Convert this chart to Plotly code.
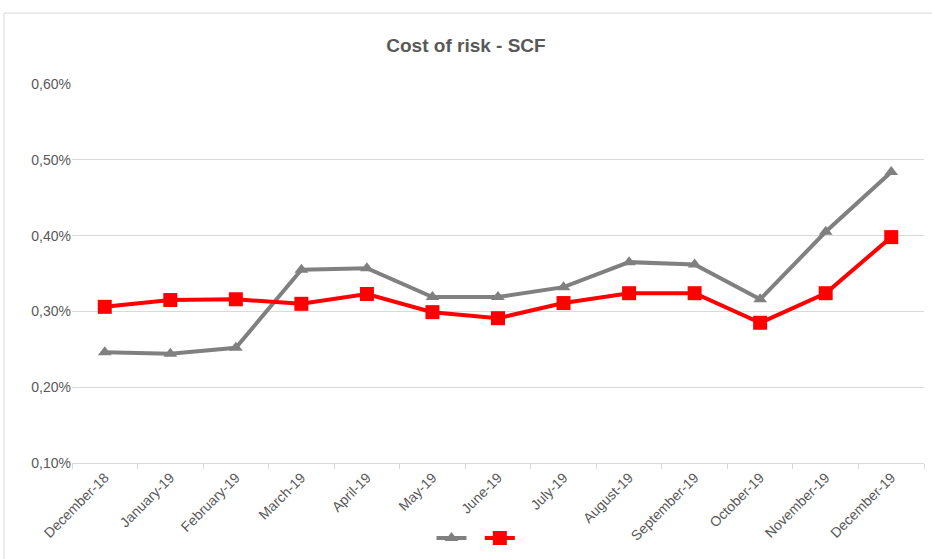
import plotly.graph_objects as go

months = ["December-18", "January-19", "February-19", "March-19", "April-19", "May-19",
          "June-19", "July-19", "August-19", "September-19", "October-19", "November-19", "December-19"]
gray_values = [0.246, 0.244, 0.252, 0.355, 0.357, 0.319, 0.319, 0.332, 0.365, 0.362, 0.316, 0.405, 0.484]
red_values = [0.306, 0.315, 0.316, 0.310, 0.323, 0.299, 0.291, 0.311, 0.324, 0.324, 0.285, 0.324, 0.398]
y_ticks = [0.001, 0.002, 0.003, 0.004, 0.005, 0.006]

fig = go.Figure()
fig.add_trace(go.Scatter(
    x=months, y=[v / 100 for v in gray_values], mode="lines+markers", name=" ",
    line=dict(color="#808080", width=4),
    marker=dict(symbol="triangle-up", size=12, color="#808080"),
))
fig.add_trace(go.Scatter(
    x=months, y=[v / 100 for v in red_values], mode="lines+markers", name=" ",
    line=dict(color="#ff0000", width=4),
    marker=dict(symbol="square", size=14, color="#ff0000"),
))

fig.update_layout(
    width=932, height=559,
    paper_bgcolor="white", plot_bgcolor="white",
    margin=dict(l=72, r=8, t=84, b=96, autoexpand=False),
    separators=",.",
    title=dict(text="<b>Cost of risk - SCF</b>", x=0.5, xref="container", xanchor="center",
               y=1 - 45 / 559, yref="container", yanchor="middle",
               font=dict(family="Liberation Sans, sans-serif", size=19, color="#595959")),
    font=dict(family="Liberation Sans, sans-serif", size=14, color="#595959"),
    showlegend=True,
    legend=dict(orientation="h", xref="container", yref="container",
                x=480 / 932, xanchor="center", y=1 - 538 / 559, yanchor="middle",
                font=dict(size=12), itemwidth=30),
    shapes=[dict(type="rect", xref="paper", yref="paper", x0=-0.0798, x1=1.01, y0=-0.3, y1=1.187,
                 line=dict(color="#d9d9d9", width=1), fillcolor="rgba(0,0,0,0)", layer="below")],
)
fig.update_xaxes(
    type="category", range=[-0.5, 12.5], tickangle=-45, automargin=False,
    showline=True, linecolor="#d9d9d9", linewidth=1,
    ticks="outside", tickson="boundaries", ticklen=5, tickcolor="#d9d9d9",
    showgrid=False, tickfont=dict(size=14, color="#595959"),
)
fig.update_yaxes(
    range=[0.001, 0.006], tickvals=y_ticks, tickformat=".2%", automargin=False,
    showgrid=True, gridcolor="#d9d9d9", gridwidth=1, zeroline=False,
    showline=False, ticks="", ticklen=0, tickfont=dict(size=14, color="#595959"),
)

fig.write_html("out.html", config={"displayModeBar": False},
               post_script="document.body.style.margin='0';")
